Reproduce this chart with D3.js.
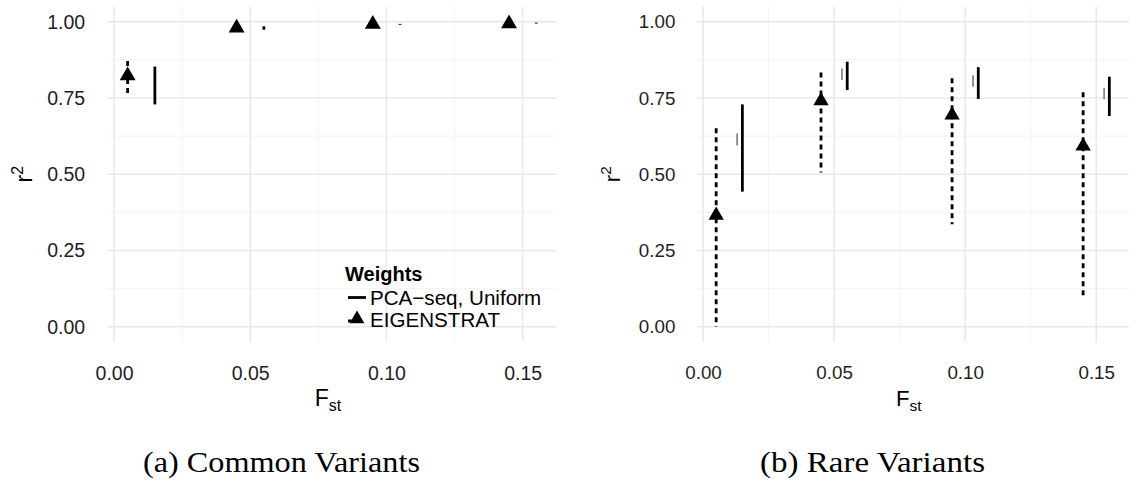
<!DOCTYPE html>
<html>
<head>
<meta charset="utf-8">
<script src="https://cdnjs.cloudflare.com/ajax/libs/d3/7.8.5/d3.min.js"></script>
<style>
body { margin: 0; background: #fff; }
svg { display: block; font-family: "Liberation Sans", Arial, sans-serif; }
</style>
</head>
<body>
<div id="chart"></div>
<script>
// Fst position of each method's bar
var eigFst = [0.005, 0.045, 0.095, 0.145];
var pcaFst = [0.015, 0.055, 0.105, 0.155];
var uniFst = [0.013, 0.053, 0.103, 0.153];

// (a) common variants
var commonEigMean = [0.823, 0.980, 0.992, 0.994];
var commonEigLo = [0.754, 0.975, 0.986, 0.990];
var commonEigHi = [0.871, 0.985, 0.995, 0.997];
var commonPcaLo = [0.729, 0.974, 0.990, 0.994];
var commonPcaHi = [0.853, 0.985, 0.993, 0.997];

// (b) rare variants
var rareEigMean = [0.365, 0.741, 0.694, 0.592];
var rareEigLo = [0.0, 0.506, 0.336, 0.093];
var rareEigHi = [0.651, 0.834, 0.815, 0.769];
var rarePcaLo = [0.443, 0.776, 0.747, 0.691];
var rarePcaHi = [0.729, 0.869, 0.851, 0.820];
var rareUniLo = [0.594, 0.809, 0.787, 0.746];
var rareUniHi = [0.634, 0.847, 0.825, 0.784];

var xTicks = [0, 0.05, 0.10, 0.15];
var xMinor = [0.025, 0.075, 0.125];
var yTicks = [0, 0.25, 0.50, 0.75, 1.00];
var yMinor = [0.125, 0.375, 0.625, 0.875];
var legendTitle = 'Weights';
var legendLabels = ['PCA\u2212seq, Uniform', 'EIGENSTRAT'];
var captions = ['(a) Common Variants', '(b) Rare Variants'];

/***********************************************************
  Layout
***********************************************************/
var width = 1143, height = 482;
var panelTop = 6.5, panelBottom = 342;
var panels = [
	{ left: 107.2, right: 556.7, k: 1, titleX: 25, caption: captions[0], capX: 281.5, capLen: 277,
		eig: { mean: commonEigMean, lo: commonEigLo, hi: commonEigHi }, pca: { lo: commonPcaLo, hi: commonPcaHi }, uni: null, legend: true },
	{ left: 696.5, right: 1129, k: 0.963, titleX: 613, caption: captions[1], capX: 872.5, capLen: 225,
		eig: { mean: rareEigMean, lo: rareEigLo, hi: rareEigHi }, pca: { lo: rarePcaLo, hi: rarePcaHi }, uni: { lo: rareUniLo, hi: rareUniHi }, legend: false }
];

var svg = d3.select('#chart').append('svg')
	.attr('width', width)
	.attr('height', height);

panels.forEach(function(p) {
	var x = d3.scaleLinear().domain([-0.0025, 0.1625]).range([p.left, p.right]);
	var y = d3.scaleLinear().domain([-0.05, 1.05]).range([panelBottom, panelTop]);
	var fs = 19.5 * p.k;
	var g = svg.append('g');

	// grid
	g.selectAll('.ymin').data(yMinor).enter().append('line')
		.attr('x1', p.left).attr('x2', p.right)
		.attr('y1', d => y(d)).attr('y2', d => y(d))
		.attr('stroke', '#f3f3f3').attr('stroke-width', 1);
	g.selectAll('.xmin').data(xMinor).enter().append('line')
		.attr('x1', d => x(d)).attr('x2', d => x(d))
		.attr('y1', panelTop).attr('y2', panelBottom)
		.attr('stroke', '#f3f3f3').attr('stroke-width', 1);
	g.selectAll('.ymaj').data(yTicks).enter().append('line')
		.attr('x1', p.left).attr('x2', p.right)
		.attr('y1', d => y(d)).attr('y2', d => y(d))
		.attr('stroke', '#e8e8e8').attr('stroke-width', 1.5);
	g.selectAll('.xmaj').data(xTicks).enter().append('line')
		.attr('x1', d => x(d)).attr('x2', d => x(d))
		.attr('y1', panelTop).attr('y2', panelBottom)
		.attr('stroke', '#e8e8e8').attr('stroke-width', 1.5);

	// axes (no lines, only labels)
	var ax = g.append('g')
		.attr('transform', 'translate(0,' + panelBottom + ')')
		.call(d3.axisBottom(x).tickValues(xTicks).tickFormat(d3.format('.2f')).tickSize(0).tickPadding(24));
	var ay = g.append('g')
		.attr('transform', 'translate(' + p.left + ',0)')
		.call(d3.axisLeft(y).tickValues(yTicks).tickFormat(d3.format('.2f')).tickSize(0).tickPadding(22 * p.k));
	[ax, ay].forEach(function(a) {
		a.select('.domain').remove();
		a.selectAll('text')
			.attr('fill', '#1e1e1e')
			.style('font-size', fs + 'px')
			.style('font-family', '"Liberation Sans", Arial, sans-serif');
	});

	// axis titles
	var cx = (p.left + p.right) / 2;
	var xt = g.append('text')
		.attr('x', cx - 4)
		.attr('y', 406)
		.attr('text-anchor', 'middle')
		.style('font-size', (23 * p.k) + 'px');
	xt.append('tspan').text('F');
	xt.append('tspan').text('st').attr('dy', 5).style('font-size', (16 * p.k) + 'px');

	var yt = g.append('text')
		.attr('transform', 'translate(' + (p.titleX + 7) + ',' + ((panelTop + panelBottom) / 2) + ') rotate(-90)')
		.attr('text-anchor', 'middle')
		.style('font-size', (23 * p.k) + 'px');
	yt.append('tspan').text('r');
	yt.append('tspan').text('2').attr('dy', -9).style('font-size', (16 * p.k) + 'px');

	// uniform (thin grey)
	if (p.uni) {
		g.selectAll('.uni').data(uniFst).enter().append('line')
			.attr('x1', d => x(d)).attr('x2', d => x(d))
			.attr('y1', (d, i) => y(p.uni.lo[i])).attr('y2', (d, i) => y(p.uni.hi[i]))
			.attr('stroke', '#7a7a7a').attr('stroke-width', 1.6);
	}

	// PCA-seq error bars (solid)
	g.selectAll('.pca').data(pcaFst).enter().append('line')
		.attr('x1', d => x(d)).attr('x2', d => x(d))
		.attr('y1', (d, i) => y(p.pca.lo[i])).attr('y2', (d, i) => y(p.pca.hi[i]))
		.attr('stroke', '#000').attr('stroke-width', 2.8);

	// EIGENSTRAT error bars (dashed) and triangles
	g.selectAll('.eig').data(eigFst).enter().append('line')
		.attr('x1', d => x(d)).attr('x2', d => x(d))
		.attr('y1', (d, i) => y(p.eig.hi[i])).attr('y2', (d, i) => y(p.eig.lo[i]))
		.attr('stroke', '#000').attr('stroke-width', 2.8)
		.attr('stroke-dasharray', '5,4');
	g.selectAll('.tri').data(eigFst).enter().append('path')
		.attr('d', d3.symbol().type(d3.symbolTriangle).size(110 * p.k * p.k))
		.attr('transform', (d, i) => 'translate(' + x(d) + ',' + y(p.eig.mean[i]) + ')')
		.attr('fill', '#000');

	// legend
	if (p.legend) {
		var lg = svg.append('g');
		lg.append('text').text(legendTitle)
			.attr('x', 345).attr('y', 280.5)
			.style('font-size', '20px').style('font-weight', 'bold');
		lg.append('line')
			.attr('x1', 348).attr('x2', 366).attr('y1', 297.5).attr('y2', 297.5)
			.attr('stroke', '#000').attr('stroke-width', 2.8);
		lg.append('line')
			.attr('x1', 348).attr('x2', 366).attr('y1', 321).attr('y2', 321)
			.attr('stroke', '#000').attr('stroke-width', 2.8)
			.attr('stroke-dasharray', '5,4');
		lg.append('path')
			.attr('d', d3.symbol().type(d3.symbolTriangle).size(95))
			.attr('transform', 'translate(357,319)')
			.attr('fill', '#000');
		legendLabels.forEach(function(t, i) {
			lg.append('text').text(t)
				.attr('x', 370).attr('y', 305 + i * 21.5)
				.style('font-size', '20.6px');
		});
	}

	// caption
	svg.append('text')
		.text(p.caption)
		.attr('x', p.capX)
		.attr('y', 472)
		.attr('text-anchor', 'middle')
		.attr('textLength', p.capLen)
		.attr('lengthAdjust', 'spacingAndGlyphs')
		.style('font-family', '"Liberation Serif", "Times New Roman", serif')
		.style('font-size', '29px');
});
</script>
</body>
</html>
